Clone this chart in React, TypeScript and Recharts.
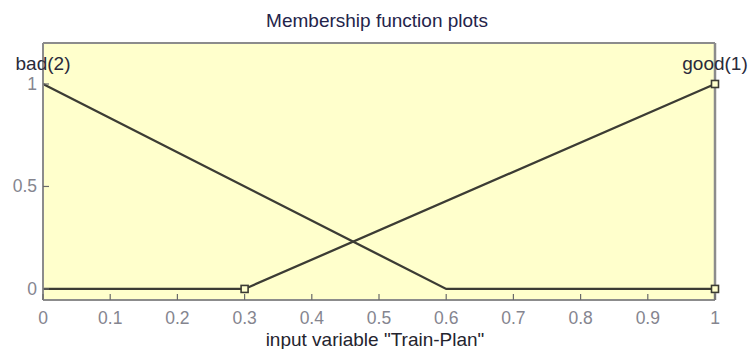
import React from 'react';
import { ComposedChart, Line, Scatter, XAxis, YAxis, CartesianGrid } from 'recharts';

const xTicks = [0, 0.1, 0.2, 0.3, 0.4, 0.5, 0.6, 0.7, 0.8, 0.9, 1];
const yTicks = [0, 0.5, 1];
const badMF = [
  { x: 0, y: 1 },
  { x: 0.6, y: 0 },
  { x: 1, y: 0 },
];
const goodMF = [
  { x: 0, y: 0 },
  { x: 0.3, y: 0 },
  { x: 1, y: 1 },
];
const markerPoints = [
  { x: 0.3, y: 0 },
  { x: 1, y: 1 },
  { x: 1, y: 0 },
];
const mfLabels = [
  { x: 0, y: 1, name: 'bad(2)' },
  { x: 1, y: 1, name: 'good(1)' },
];
const titleText = 'Membership function plots';
const xLabelText = 'input variable "Train-Plan"';

const FONT = 'Arial, "Liberation Sans", Helvetica, sans-serif';
const LINE = '#3c3c34';
const TICKTEXT = '#85858f';
const BORDER = '#8c8c8c';

const BottomTick = (props: any) => {
  const { x, y, payload } = props;
  return (
    <g>
      <line x1={x} x2={x} y1={y} y2={y - 6} stroke="#6a6a6a" strokeWidth={1.2} />
      <text x={x} y={y + 24} textAnchor="middle" fill={TICKTEXT} fontSize={17.5} fontFamily={FONT}>
        {String(payload.value)}
      </text>
    </g>
  );
};

const TopTick = (props: any) => {
  const { x, y } = props;
  return <line x1={x} x2={x} y1={y} y2={y + 6} stroke="#6a6a6a" strokeWidth={1.2} />;
};

const LeftTick = (props: any) => {
  const { x, y, payload } = props;
  return (
    <g>
      <line x1={x} x2={x + 6} y1={y} y2={y} stroke="#6a6a6a" strokeWidth={1.2} />
      <text x={x - 6} y={y + 6} textAnchor="end" fill={TICKTEXT} fontSize={17.5} fontFamily={FONT}>
        {String(payload.value)}
      </text>
    </g>
  );
};

const RightTick = (props: any) => {
  const { x, y } = props;
  return <line x1={x} x2={x - 7} y1={y} y2={y} stroke="#6a6a6a" strokeWidth={1.5} />;
};

const SquareMarker = (props: any) => {
  const { cx, cy } = props;
  return (
    <rect x={cx - 3.5} y={cy - 3.5} width={7} height={7} fill="#ffffcc" stroke={LINE} strokeWidth={1.6} />
  );
};

const LabelShape = (props: any) => {
  const { cx, cy, payload } = props;
  return (
    <text x={cx} y={cy - 14} textAnchor="middle" fill="#2a2a3a" fontSize={19} fontFamily={FONT}>
      {payload.name}
    </text>
  );
};

export default function App() {
  return (
    <div style={{ position: 'absolute', left: 0, top: 0, width: 750, height: 349, background: '#ffffff' }}>
      <ComposedChart width={750} height={349} margin={{ top: 0, right: 0, bottom: 0, left: 0 }}>
        <CartesianGrid xAxisId="b" yAxisId="l" horizontal={false} vertical={false} fill="#ffffcc" />
        <XAxis
          xAxisId="b"
          type="number"
          dataKey="x"
          domain={[0, 1]}
          ticks={xTicks}
          height={49}
          tickSize={0}
          tickMargin={0}
          tick={<BottomTick />}
          axisLine={{ stroke: BORDER, strokeWidth: 2 }}
        />
        <XAxis
          xAxisId="t"
          orientation="top"
          type="number"
          dataKey="x"
          domain={[0, 1]}
          ticks={xTicks}
          height={43}
          tickSize={0}
          tickMargin={0}
          tick={<TopTick />}
          axisLine={{ stroke: BORDER, strokeWidth: 2 }}
        />
        <YAxis
          yAxisId="l"
          type="number"
          dataKey="y"
          domain={[-0.054, 1.2]}
          ticks={yTicks}
          width={43}
          tickSize={0}
          tickMargin={0}
          tick={<LeftTick />}
          axisLine={{ stroke: BORDER, strokeWidth: 2 }}
        />
        <YAxis
          yAxisId="r"
          orientation="right"
          type="number"
          dataKey="y"
          domain={[-0.054, 1.2]}
          ticks={yTicks}
          width={35}
          tickSize={0}
          tickMargin={0}
          tick={<RightTick />}
          axisLine={{ stroke: BORDER, strokeWidth: 2.5 }}
        />
        <Line
          xAxisId="b"
          yAxisId="l"
          data={badMF}
          dataKey="y"
          type="linear"
          stroke={LINE}
          strokeWidth={2.3}
          dot={false}
          activeDot={false}
          isAnimationActive={false}
        />
        <Line
          xAxisId="b"
          yAxisId="l"
          data={goodMF}
          dataKey="y"
          type="linear"
          stroke={LINE}
          strokeWidth={2.3}
          dot={false}
          activeDot={false}
          isAnimationActive={false}
        />
        <Scatter
          xAxisId="b"
          yAxisId="l"
          data={markerPoints}
          dataKey="y"
          shape={<SquareMarker />}
          isAnimationActive={false}
        />
        <Scatter
          xAxisId="b"
          yAxisId="l"
          data={mfLabels}
          dataKey="y"
          shape={<LabelShape />}
          isAnimationActive={false}
        />
        <text x={377} y={27} textAnchor="middle" fill="#24244a" fontSize={19} fontFamily={FONT}>
          {titleText}
        </text>
        <text x={375} y={346} textAnchor="middle" fill="#24242e" fontSize={19} fontFamily={FONT}>
          {xLabelText}
        </text>
      </ComposedChart>
    </div>
  );
}
